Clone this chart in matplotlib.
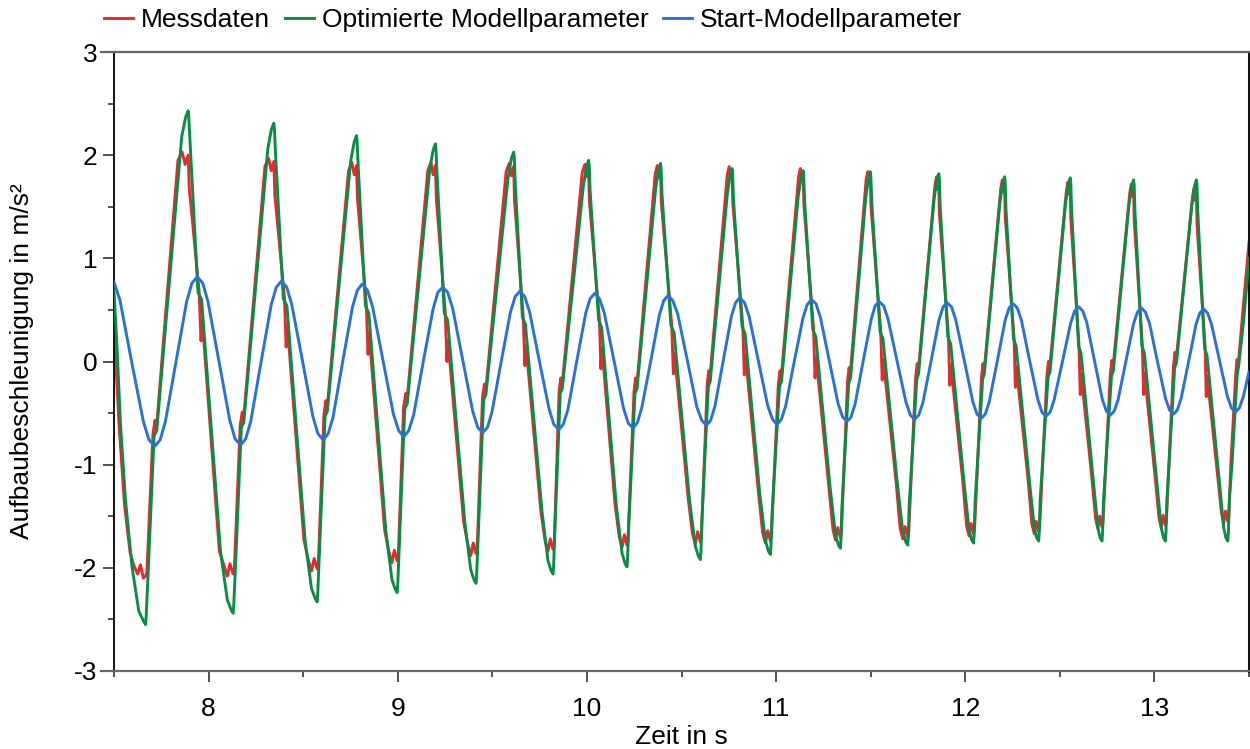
import numpy as np
import matplotlib
matplotlib.use('Agg')
import matplotlib.pyplot as plt
from matplotlib.lines import Line2D

plt.rcParams['font.family'] = ['Liberation Sans', 'DejaVu Sans']
plt.rcParams['axes.unicode_minus'] = False

# Messdaten (rot)
t_mess = [7.500, 7.512, 7.528, 7.556, 7.585, 7.605, 7.625, 7.640, 7.655,
          7.667, 7.674, 7.706, 7.717, 7.724, 7.838, 7.860, 7.876, 7.892, 7.898, 7.950, 7.960, 7.967, 8.057, 8.082, 8.099, 8.113,
          8.130, 8.136, 8.167, 8.178, 8.184, 8.298, 8.317, 8.331, 8.345, 8.350, 8.401, 8.410, 8.417, 8.504, 8.528, 8.544, 8.558,
          8.574, 8.580, 8.610, 8.620, 8.626, 8.740, 8.757, 8.770, 8.782, 8.787, 8.834, 8.843, 8.849, 8.931, 8.954, 8.969, 8.982,
          8.997, 9.003, 9.031, 9.042, 9.048, 9.159, 9.175, 9.187, 9.199, 9.204, 9.251, 9.260, 9.266, 9.348, 9.371, 9.386, 9.399,
          9.414, 9.420, 9.448, 9.458, 9.464, 9.573, 9.589, 9.601, 9.613, 9.617, 9.663, 9.672, 9.678, 9.757, 9.779, 9.794, 9.806,
          9.821, 9.827, 9.853, 9.862, 9.868, 9.975, 9.989, 9.999, 10.009, 10.013, 10.066, 10.074, 10.080, 10.149, 10.171, 10.186, 10.198,
          10.212, 10.217, 10.249, 10.257, 10.263, 10.361, 10.372, 10.381, 10.389, 10.393, 10.448, 10.457, 10.463, 10.535, 10.558, 10.573, 10.585,
          10.600, 10.605, 10.636, 10.644, 10.649, 10.742, 10.752, 10.760, 10.767, 10.771, 10.824, 10.832, 10.838, 10.907, 10.929, 10.944, 10.956,
          10.970, 10.975, 11.012, 11.021, 11.026, 11.119, 11.128, 11.136, 11.143, 11.147, 11.198, 11.206, 11.212, 11.279, 11.301, 11.314, 11.326,
          11.340, 11.345, 11.378, 11.386, 11.391, 11.476, 11.485, 11.491, 11.498, 11.502, 11.553, 11.561, 11.567, 11.635, 11.656, 11.670, 11.682,
          11.696, 11.701, 11.738, 11.746, 11.751, 11.840, 11.848, 11.854, 11.860, 11.863, 11.911, 11.918, 11.924, 11.987, 12.007, 12.020, 12.031,
          12.044, 12.049, 12.086, 12.094, 12.099, 12.188, 12.196, 12.202, 12.208, 12.211, 12.258, 12.265, 12.270, 12.332, 12.352, 12.365, 12.375,
          12.388, 12.393, 12.432, 12.440, 12.445, 12.535, 12.543, 12.549, 12.555, 12.558, 12.601, 12.608, 12.613, 12.670, 12.689, 12.701, 12.711,
          12.723, 12.728, 12.767, 12.775, 12.780, 12.870, 12.878, 12.884, 12.890, 12.893, 12.936, 12.943, 12.948, 13.005, 13.024, 13.036, 13.046,
          13.058, 13.063, 13.101, 13.109, 13.114, 13.202, 13.210, 13.216, 13.222, 13.225, 13.268, 13.274, 13.279, 13.336, 13.355, 13.366, 13.376,
          13.388, 13.393, 13.404, 13.430, 13.437, 13.442, 13.468, 13.500]
y_mess = [0.25, -0.10, -0.65, -1.40, -1.85, -1.98, -2.06, -1.97, -2.10,
          -2.08, -2.04, -0.70, -0.57, -0.66, 1.95, 2.03, 1.91, 2.00, 1.68, 0.68, 0.20, 0.40, -1.84, -1.98, -2.08, -1.96,
          -2.06, -2.02, -0.62, -0.49, -0.58, 1.89, 1.97, 1.85, 1.94, 1.62, 0.62, 0.14, 0.34, -1.73, -1.93, -2.03, -1.91,
          -2.01, -1.97, -0.51, -0.38, -0.47, 1.85, 1.93, 1.81, 1.90, 1.58, 0.55, 0.07, 0.27, -1.64, -1.85, -1.95, -1.83,
          -1.93, -1.89, -0.44, -0.31, -0.40, 1.85, 1.93, 1.81, 1.90, 1.58, 0.48, 0.00, 0.20, -1.55, -1.78, -1.88, -1.76,
          -1.86, -1.82, -0.35, -0.22, -0.31, 1.84, 1.92, 1.80, 1.89, 1.57, 0.44, -0.04, 0.16, -1.46, -1.74, -1.84, -1.72,
          -1.82, -1.78, -0.29, -0.16, -0.25, 1.83, 1.91, 1.79, 1.88, 1.56, 0.41, -0.07, 0.13, -1.39, -1.70, -1.80, -1.68,
          -1.78, -1.74, -0.29, -0.16, -0.25, 1.82, 1.90, 1.78, 1.87, 1.55, 0.36, -0.12, 0.08, -1.32, -1.67, -1.77, -1.65,
          -1.75, -1.71, -0.22, -0.09, -0.18, 1.81, 1.89, 1.77, 1.86, 1.54, 0.35, -0.13, 0.07, -1.27, -1.66, -1.76, -1.64,
          -1.74, -1.70, -0.22, -0.09, -0.18, 1.79, 1.87, 1.75, 1.84, 1.52, 0.32, -0.16, 0.04, -1.21, -1.63, -1.73, -1.61,
          -1.71, -1.67, -0.19, -0.06, -0.15, 1.76, 1.84, 1.72, 1.81, 1.49, 0.30, -0.18, 0.02, -1.18, -1.62, -1.72, -1.60,
          -1.70, -1.66, -0.15, -0.02, -0.11, 1.71, 1.79, 1.67, 1.76, 1.44, 0.25, -0.23, -0.03, -1.16, -1.59, -1.69, -1.57,
          -1.67, -1.63, -0.15, -0.02, -0.11, 1.68, 1.76, 1.64, 1.73, 1.41, 0.23, -0.25, -0.05, -1.14, -1.57, -1.67, -1.55,
          -1.65, -1.61, -0.13, 0.00, -0.09, 1.66, 1.74, 1.62, 1.71, 1.39, 0.16, -0.32, -0.12, -1.14, -1.52, -1.62, -1.50,
          -1.60, -1.56, -0.12, 0.01, -0.08, 1.64, 1.72, 1.60, 1.69, 1.37, 0.16, -0.32, -0.12, -1.14, -1.51, -1.61, -1.49,
          -1.59, -1.55, -0.04, 0.09, 0.00, 1.60, 1.68, 1.56, 1.65, 1.33, 0.14, -0.34, -0.14, -1.14, -1.47, -1.57, -1.45,
          -1.55, -1.51, -1.00, -0.12, 0.02, -0.06, 0.50, 1.15]

# Optimierte Modellparameter (gruen)
t_opt = [7.500, 7.517, 7.534, 7.561, 7.596, 7.631, 7.657,
         7.667, 7.670, 7.678, 7.712, 7.726, 7.858, 7.879, 7.892, 7.895, 7.902, 7.944, 7.963, 8.063, 8.099, 8.120,
         8.130, 8.133, 8.141, 8.173, 8.186, 8.313, 8.332, 8.345, 8.348, 8.354, 8.395, 8.414, 8.510, 8.544, 8.564,
         8.574, 8.577, 8.584, 8.616, 8.628, 8.751, 8.770, 8.782, 8.785, 8.791, 8.829, 8.847, 8.937, 8.969, 8.987,
         8.997, 9.000, 9.007, 9.037, 9.050, 9.169, 9.187, 9.199, 9.202, 9.208, 9.246, 9.264, 9.354, 9.386, 9.404,
         9.414, 9.417, 9.424, 9.454, 9.466, 9.583, 9.601, 9.613, 9.616, 9.621, 9.659, 9.675, 9.763, 9.794, 9.811,
         9.821, 9.824, 9.830, 9.859, 9.870, 9.981, 9.998, 10.009, 10.012, 10.017, 10.062, 10.078, 10.155, 10.186, 10.202,
         10.212, 10.215, 10.221, 10.254, 10.265, 10.363, 10.378, 10.389, 10.392, 10.397, 10.444, 10.461, 10.541, 10.573, 10.590,
         10.600, 10.603, 10.608, 10.642, 10.652, 10.742, 10.757, 10.767, 10.770, 10.775, 10.820, 10.836, 10.913, 10.944, 10.960,
         10.970, 10.973, 10.979, 11.018, 11.029, 11.117, 11.133, 11.143, 11.146, 11.151, 11.194, 11.210, 11.285, 11.314, 11.330,
         11.340, 11.343, 11.348, 11.384, 11.394, 11.474, 11.489, 11.498, 11.501, 11.506, 11.550, 11.565, 11.641, 11.670, 11.686,
         11.696, 11.699, 11.704, 11.744, 11.753, 11.835, 11.850, 11.860, 11.863, 11.867, 11.908, 11.923, 11.993, 12.020, 12.034,
         12.044, 12.047, 12.052, 12.092, 12.101, 12.183, 12.198, 12.208, 12.211, 12.215, 12.255, 12.269, 12.338, 12.365, 12.378,
         12.388, 12.391, 12.396, 12.438, 12.448, 12.530, 12.545, 12.555, 12.558, 12.562, 12.599, 12.612, 12.676, 12.701, 12.713,
         12.723, 12.726, 12.731, 12.773, 12.783, 12.865, 12.880, 12.890, 12.893, 12.897, 12.934, 12.947, 13.011, 13.036, 13.048,
         13.058, 13.061, 13.066, 13.107, 13.117, 13.197, 13.212, 13.222, 13.225, 13.229, 13.265, 13.278, 13.342, 13.366, 13.378,
         13.388, 13.391, 13.396, 13.410, 13.437, 13.446, 13.472, 13.500]
y_opt = [0.69, 0.10, -0.60, -1.35, -2.00, -2.42, -2.52,
         -2.55, -2.47, -2.15, -0.72, -0.67, 2.18, 2.37, 2.43, 2.38, 2.13, 0.67, 0.60, -1.84, -2.31, -2.41,
         -2.44, -2.36, -2.04, -0.64, -0.59, 2.06, 2.25, 2.31, 2.26, 2.01, 0.61, 0.54, -1.73, -2.20, -2.30,
         -2.33, -2.25, -1.93, -0.53, -0.48, 1.94, 2.13, 2.19, 2.14, 1.89, 0.54, 0.47, -1.64, -2.11, -2.21,
         -2.24, -2.16, -1.84, -0.46, -0.41, 1.86, 2.05, 2.11, 2.06, 1.81, 0.47, 0.40, -1.55, -2.02, -2.12,
         -2.15, -2.07, -1.75, -0.37, -0.32, 1.78, 1.97, 2.03, 1.98, 1.73, 0.43, 0.36, -1.46, -1.93, -2.03,
         -2.06, -1.98, -1.66, -0.31, -0.26, 1.70, 1.89, 1.95, 1.90, 1.65, 0.40, 0.33, -1.39, -1.86, -1.96,
         -1.99, -1.91, -1.59, -0.31, -0.26, 1.67, 1.86, 1.92, 1.87, 1.62, 0.35, 0.28, -1.32, -1.79, -1.89,
         -1.92, -1.84, -1.52, -0.24, -0.19, 1.62, 1.81, 1.87, 1.82, 1.57, 0.34, 0.27, -1.27, -1.74, -1.84,
         -1.87, -1.79, -1.47, -0.24, -0.19, 1.60, 1.79, 1.85, 1.80, 1.55, 0.31, 0.24, -1.21, -1.68, -1.78,
         -1.81, -1.73, -1.41, -0.21, -0.16, 1.59, 1.78, 1.84, 1.79, 1.54, 0.29, 0.22, -1.18, -1.65, -1.75,
         -1.78, -1.70, -1.38, -0.17, -0.12, 1.57, 1.76, 1.82, 1.77, 1.52, 0.24, 0.17, -1.16, -1.63, -1.73,
         -1.76, -1.68, -1.36, -0.17, -0.12, 1.54, 1.73, 1.79, 1.74, 1.49, 0.22, 0.15, -1.14, -1.61, -1.71,
         -1.74, -1.66, -1.34, -0.15, -0.10, 1.53, 1.72, 1.78, 1.73, 1.48, 0.15, 0.08, -1.14, -1.61, -1.71,
         -1.74, -1.66, -1.34, -0.14, -0.09, 1.51, 1.70, 1.76, 1.71, 1.46, 0.15, 0.08, -1.14, -1.61, -1.71,
         -1.74, -1.66, -1.34, -0.06, -0.01, 1.51, 1.70, 1.76, 1.71, 1.46, 0.13, 0.06, -1.14, -1.61, -1.71,
         -1.74, -1.66, -1.34, -1.00, -0.14, -0.03, 0.40, 1.00]

# Start-Modellparameter (blau)
t_start = [7.500, 7.532, 7.593, 7.655, 7.685,
           7.716, 7.744, 7.772, 7.828, 7.884, 7.912,
           7.940, 7.969, 7.997, 8.055, 8.112, 8.140,
           8.169, 8.196, 8.223, 8.277, 8.331, 8.358,
           8.385, 8.413, 8.440, 8.496, 8.551, 8.578,
           8.606, 8.632, 8.658, 8.709, 8.761, 8.786,
           8.812, 8.840, 8.867, 8.922, 8.977, 9.005,
           9.032, 9.058, 9.084, 9.135, 9.187, 9.212,
           9.238, 9.264, 9.291, 9.344, 9.396, 9.423,
           9.449, 9.474, 9.498, 9.547, 9.596, 9.621,
           9.645, 9.671, 9.697, 9.748, 9.800, 9.825,
           9.851, 9.875, 9.899, 9.946, 9.994, 10.017,
           10.041, 10.066, 10.092, 10.143, 10.193, 10.219,
           10.244, 10.267, 10.290, 10.337, 10.383, 10.406,
           10.429, 10.454, 10.480, 10.531, 10.581, 10.607,
           10.632, 10.654, 10.676, 10.720, 10.764, 10.786,
           10.808, 10.833, 10.857, 10.907, 10.956, 10.981,
           11.005, 11.028, 11.051, 11.096, 11.142, 11.164,
           11.187, 11.211, 11.234, 11.281, 11.328, 11.352,
           11.375, 11.396, 11.418, 11.460, 11.503, 11.524,
           11.545, 11.569, 11.592, 11.639, 11.686, 11.710,
           11.733, 11.754, 11.776, 11.819, 11.861, 11.883,
           11.904, 11.927, 11.949, 11.995, 12.040, 12.062,
           12.085, 12.106, 12.127, 12.169, 12.211, 12.232,
           12.253, 12.275, 12.297, 12.340, 12.384, 12.405,
           12.427, 12.449, 12.470, 12.514, 12.557, 12.578,
           12.600, 12.621, 12.642, 12.684, 12.725, 12.746,
           12.767, 12.788, 12.808, 12.849, 12.890, 12.911,
           12.931, 12.952, 12.974, 13.016, 13.059, 13.080,
           13.101, 13.121, 13.141, 13.181, 13.220, 13.240,
           13.260, 13.281, 13.302, 13.344, 13.386, 13.407,
           13.428, 13.449, 13.470, 13.500]
y_start = [0.77, 0.59, 0.00, -0.58, -0.76,
           -0.82, -0.76, -0.58, 0.00, 0.58, 0.76,
           0.82, 0.76, 0.58, 0.00, -0.57, -0.75,
           -0.81, -0.75, -0.58, -0.01, 0.55, 0.72,
           0.78, 0.72, 0.55, 0.01, -0.53, -0.70,
           -0.76, -0.70, -0.54, 0.00, 0.53, 0.69,
           0.75, 0.69, 0.53, 0.01, -0.51, -0.67,
           -0.73, -0.67, -0.52, 0.00, 0.51, 0.67,
           0.72, 0.67, 0.51, 0.01, -0.48, -0.64,
           -0.69, -0.64, -0.49, 0.00, 0.48, 0.63,
           0.68, 0.63, 0.48, 0.01, -0.46, -0.61,
           -0.66, -0.61, -0.47, 0.00, 0.47, 0.61,
           0.66, 0.61, 0.47, 0.01, -0.45, -0.60,
           -0.645, -0.59, -0.45, 0.00, 0.45, 0.59,
           0.64, 0.59, 0.46, 0.01, -0.44, -0.57,
           -0.62, -0.57, -0.44, 0.00, 0.44, 0.57,
           0.62, 0.57, 0.44, 0.00, -0.43, -0.56,
           -0.61, -0.56, -0.43, 0.00, 0.42, 0.55,
           0.60, 0.56, 0.43, 0.01, -0.41, -0.54,
           -0.58, -0.54, -0.41, 0.00, 0.41, 0.54,
           0.58, 0.54, 0.41, 0.01, -0.39, -0.52,
           -0.56, -0.52, -0.40, 0.00, 0.40, 0.53,
           0.57, 0.53, 0.41, 0.01, -0.39, -0.51,
           -0.55, -0.51, -0.39, 0.00, 0.40, 0.52,
           0.56, 0.52, 0.40, 0.01, -0.37, -0.49,
           -0.53, -0.49, -0.37, 0.00, 0.37, 0.49,
           0.53, 0.49, 0.38, 0.00, -0.37, -0.48,
           -0.52, -0.48, -0.37, 0.00, 0.37, 0.48,
           0.52, 0.48, 0.37, 0.00, -0.36, -0.47,
           -0.51, -0.47, -0.36, 0.00, 0.36, 0.47,
           0.51, 0.47, 0.36, 0.01, -0.34, -0.45,
           -0.49, -0.45, -0.34, -0.10]

labels = ['Messdaten', 'Optimierte Modellparameter', 'Start-Modellparameter']
colors = ['#e8282c', '#0b8c46', '#2872d6']
fs = 19

fig = plt.figure(figsize=(12.5, 7.49), dpi=100)
ax = fig.add_axes([114/1250, 1-671/749, 1135/1250, 619/749])

ax.plot(t_mess, y_mess, color=colors[0], lw=2.1, label=labels[0], zorder=2)
ax.plot(t_opt, y_opt, color=colors[1], lw=2.1, label=labels[1], zorder=3)
ax.plot(t_start, y_start, color=colors[2], lw=2.1, label=labels[2], zorder=4)

ax.set_xlim(7.5, 13.5)
ax.set_ylim(-3, 3)
ax.set_xticks([8, 9, 10, 11, 12, 13])
ax.set_xticks(np.arange(7.5, 13.51, 0.5), minor=True)
ax.set_yticks([-3, -2, -1, 0, 1, 2, 3])
ax.set_yticks(np.arange(-3, 3.01, 0.5), minor=True)
ax.tick_params(which='major', length=8, width=1.2, direction='out', labelsize=fs, colors='#333333', labelcolor='black')
ax.tick_params(which='minor', length=4.5, width=1.2, direction='out', colors='#333333')
ax.tick_params(axis='x', which='major', pad=11)
ax.tick_params(axis='y', which='major', pad=4)

for s in ['left', 'right']:
    ax.spines[s].set_color('#111111')
ax.spines['left'].set_linewidth(1.4)
ax.spines['right'].set_linewidth(2.2)
for s in ['top', 'bottom']:
    ax.spines[s].set_color('#666666')
    ax.spines[s].set_linewidth(1.6)
# obere/untere Linie etwas ueber die linke Achse hinaus
for yy in [0, 1]:
    ax.add_line(Line2D([-13/1135, 0], [yy, yy], transform=ax.transAxes, color='#666666', lw=1.6, clip_on=False))

ax.set_xlabel('Zeit in s', fontsize=fs)
ax.xaxis.set_label_coords(0.5, -(737-671)/619)
ax.xaxis.label.set_va('center')
ax.set_ylabel('Aufbaubeschleunigung in m/s²', fontsize=fs)
ax.yaxis.set_label_coords(-(114-22)/1135, 0.5)
ax.yaxis.label.set_va('center')

fig.legend(loc='upper left', bbox_to_anchor=(104/1250, 1-8/749), ncol=3, frameon=False, fontsize=fs,
           handlelength=1.1, handletextpad=0.3, columnspacing=0.55, borderaxespad=0, borderpad=0)

plt.savefig('out.png', dpi=100)
